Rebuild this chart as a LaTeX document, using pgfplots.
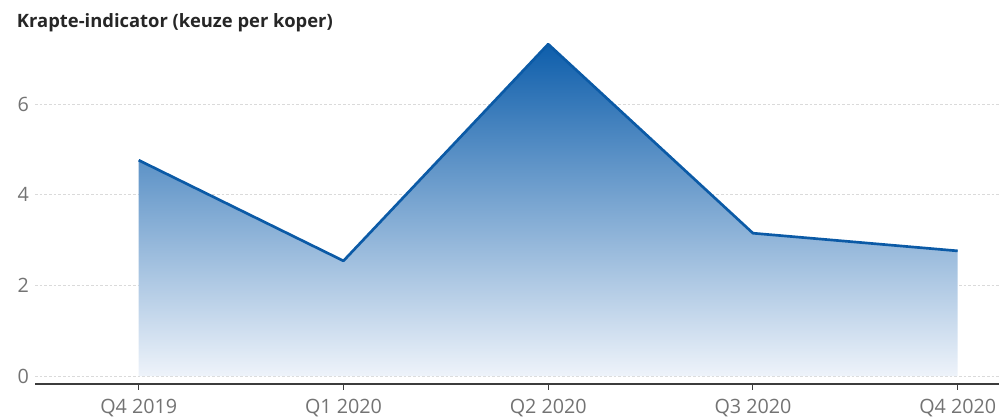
\documentclass[border=0pt]{standalone}
\usepackage{fontspec}
\setmainfont{Open Sans}
\usepackage{pgfplots}
\pgfplotsset{compat=1.18}
\definecolor{lineblue}{RGB}{11,90,166}
\definecolor{topblue}{RGB}{14,94,171}
\definecolor{botblue}{RGB}{238,243,250}
\definecolor{ticktext}{RGB}{115,115,115}
\definecolor{axisdark}{RGB}{60,60,60}
\definecolor{gridgray}{RGB}{218,218,218}
\begin{document}
\begin{tikzpicture}
\useasboundingbox (0,0) rectangle (749.25pt,315pt);
\node[anchor=west, inner sep=0pt, text=black!85] at (12.5pt,298pt) {\fontsize{13.8pt}{16pt}\selectfont\bfseries Krapte-indicator (keuze per koper)};
\begin{axis}[
  at={(26.25pt,27pt)}, anchor=south west,
  scale only axis, width=723pt, height=261pt,
  xmin=-0.5065, xmax=4.2017, ymin=-0.176, ymax=7.5,
  axis x line*=bottom, axis y line*=left,
  x axis line style={draw=axisdark, line width=1pt},
  y axis line style={draw=none},
  xtick={0,1,2,3,4},
  xticklabels={Q4 2019, Q1 2020, Q2 2020, Q3 2020, Q4 2020},
  ytick={0,2,4,6},
  tick align=outside,
  major tick length=4.5pt,
  xtick style={draw=axisdark, line width=0.8pt},
  ytick style={draw=none},
  ymajorgrids,
  grid style={draw=gridgray, line width=0.6pt, dash pattern=on 2pt off 1.5pt},
  /pgf/number format/assume math mode=true,
  ticklabel style={font=\fontsize{14.8pt}{17pt}\selectfont, text=ticktext},
  yticklabel style={anchor=east, xshift=3.5pt},
  xticklabel style={anchor=north, yshift=-3pt},
  clip=false,
]
\addplot[draw=none, top color=topblue, bottom color=botblue] coordinates {
  (0,4.76) (1,2.54) (2,7.32) (3,3.15) (4,2.76)
} \closedcycle;
\addplot[draw=lineblue, line width=2pt, line join=round] coordinates {
  (0,4.76) (1,2.54) (2,7.32) (3,3.15) (4,2.76)
};
\end{axis}
\end{tikzpicture}
\end{document}
